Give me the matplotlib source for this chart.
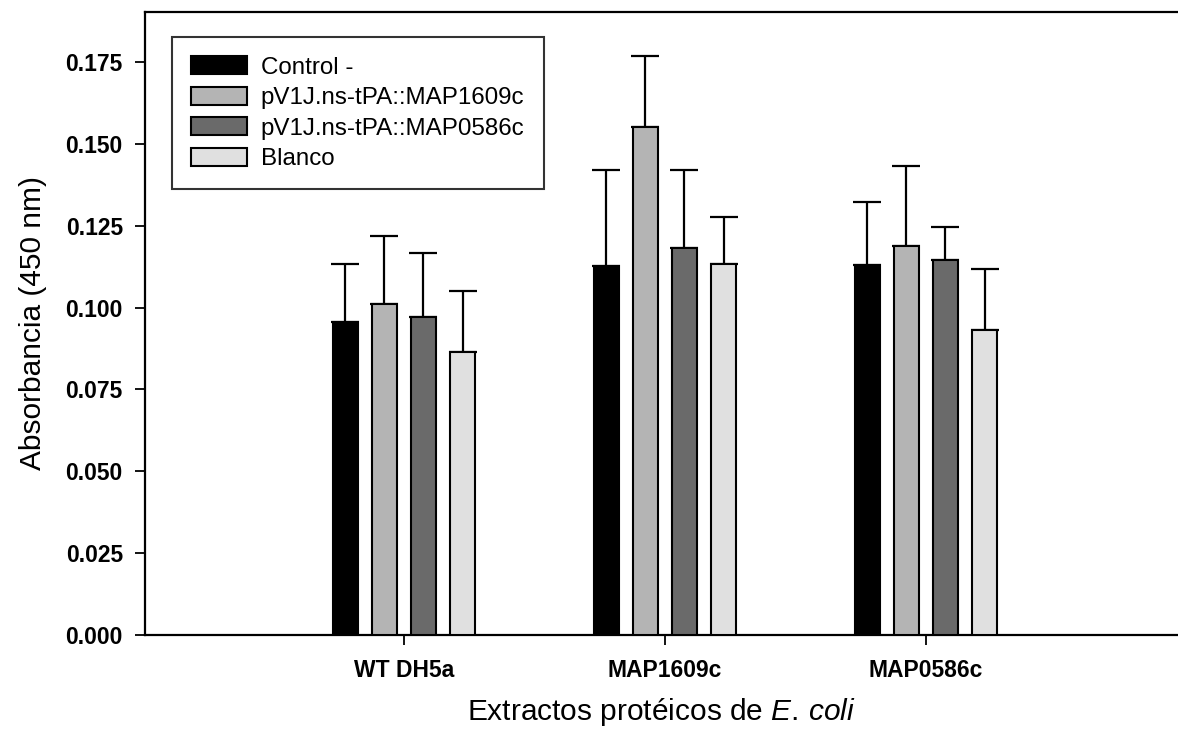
import matplotlib
matplotlib.use("Agg")
import matplotlib.pyplot as plt
import numpy as np

plt.rcParams['font.family'] = ['Liberation Sans', 'DejaVu Sans']
plt.rcParams['mathtext.fontset'] = 'custom'
plt.rcParams['mathtext.rm'] = 'Liberation Sans'
plt.rcParams['mathtext.it'] = 'Liberation Sans:italic'

# data
cats = ['WT DH5a', 'MAP1609c', 'MAP0586c']
series = ['Control -', 'pV1J.ns-tPA::MAP1609c', 'pV1J.ns-tPA::MAP0586c', 'Blanco']
control = [0.0956, 0.1128, 0.1129]
control_err = [0.0178, 0.0292, 0.0194]
map1609 = [0.1010, 0.1551, 0.1188]
map1609_err = [0.0209, 0.0217, 0.0244]
map0586 = [0.0970, 0.1181, 0.1145]
map0586_err = [0.0196, 0.0239, 0.0100]
blanco = [0.0863, 0.1134, 0.0931]
blanco_err = [0.0189, 0.0144, 0.0186]

values = [control, map1609, map0586, blanco]
errors = [control_err, map1609_err, map0586_err, blanco_err]
colors = ['#000000', '#b4b4b4', '#6a6a6a', '#e0e0e0']

fig = plt.figure(figsize=(11.78, 7.38), dpi=100)
ax = fig.add_axes([145/1178, 1-635/738, 1-145/1178, (635-12)/738])

x = np.arange(len(cats))
w = 0.096
step = 0.15
for i in range(4):
    pos = x + (i - 1.5) * step
    ax.bar(pos, values[i], w, color=colors[i], edgecolor='black', linewidth=1.5,
           label=series[i], zorder=3)
    ax.errorbar(pos, values[i], yerr=[np.zeros(3), errors[i]], fmt='none',
                ecolor='black', elinewidth=1.6, capsize=10, capthick=1.6, zorder=2)

ax.set_xlim(-0.992, 2.966)
ax.set_ylim(0, 0.1903)
ax.set_yticks(np.arange(0, 0.176, 0.025))
ax.set_yticklabels(['%.3f' % v for v in np.arange(0, 0.176, 0.025)])
ax.set_xticks(x)
ax.set_xticklabels(cats)
for lab in ax.get_xticklabels() + ax.get_yticklabels():
    lab.set_fontweight('bold')
ax.tick_params(axis='y', length=7, width=1.3, labelsize=16.5, pad=9)
ax.tick_params(axis='x', length=7, width=1.3, labelsize=16.5, pad=10)
for s in ['left', 'bottom', 'top']:
    ax.spines[s].set_linewidth(1.6)
ax.spines['right'].set_visible(False)

ax.set_ylabel('Absorbancia (450 nm)', fontsize=21.5, labelpad=13)
ax.set_xlabel(r'Extractos protéicos de $\mathit{E.\,coli}$', fontsize=21.5, labelpad=10)

leg = ax.legend(loc='upper left', bbox_to_anchor=((172-145)/1033, (635-37)/623),
                borderaxespad=0, fontsize=17.4, frameon=True, fancybox=False,
                handlelength=2.3, handleheight=0.75, handletextpad=0.57,
                labelspacing=0.34, borderpad=0.8)
leg.get_frame().set_edgecolor('black')
leg.get_frame().set_linewidth(1.5)

fig.savefig('out.png', dpi=100)
